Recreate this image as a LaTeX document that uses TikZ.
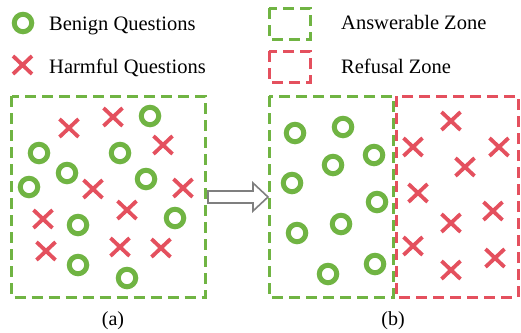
\documentclass[tikz,border=0pt]{standalone}
\usepackage{fontspec}
\setmainfont{Liberation Serif}
\usetikzlibrary{shapes.misc}
\definecolor{qgreen}{HTML}{70B443}
\definecolor{qred}{HTML}{E4505E}
\definecolor{agray}{HTML}{7F7F7F}
\tikzset{
  benign/.style={circle, draw=qgreen, line width=5pt, minimum size=17.5pt, inner sep=0pt, outer sep=0pt},
  harm/.style={cross out, draw=qred, line width=3.8pt, minimum width=19pt, minimum height=18pt, inner sep=0pt, outer sep=0pt},
  zone/.style={dash pattern=on 11pt off 6pt, line width=3pt},
  lbl/.style={anchor=base west, inner sep=0pt, font=\fontsize{20.5}{24}\selectfont},
  captext/.style={anchor=base, inner sep=0pt, font=\fontsize{20}{24}\selectfont},
}
\begin{document}
\begin{tikzpicture}[x=1pt,y=-1pt]
\useasboundingbox (0,0) rectangle (521,332);
% legend
\node[benign] (lgb) at (23,23) {};
\node[lbl] (tb) at (49,30) {Benign Questions};
\node[harm] (lgh) at (22.5,65) {};
\node[lbl] (th) at (49,73) {Harmful Questions};
\draw[zone, qgreen] (269,8) rectangle (310,39);
\draw[zone, qred] (269,51) rectangle (310,82);
\node[lbl] (ta) at (341,29) {Answerable Zone};
\node[lbl] (tr) at (341,73) {Refusal Zone};
% panel (a)
\draw[zone, qgreen] (11.5,96) rectangle (205,297);
\foreach \n/\x/\y in {a1/150/116, a2/39/153, a3/120/153, a4/67/173, a5/29/187,
  a6/146/179, a7/175/218, a8/78/225, a9/78/265, a10/127/278}
  \node[benign] (\n) at (\x,\y) {};
\foreach \n/\x/\y in {b1/69/128, b2/113/117, b3/163/145, b4/93/189, b5/183/188,
  b6/127/210, b7/43/219, b8/46/251, b9/120/247, b10/161/248}
  \node[harm] (\n) at (\x,\y) {};
\node[captext] (la) at (113,325) {(a)};
% arrow
\draw[agray, line width=1.6pt, fill=white, line join=miter]
  (208,191) -- (253,191) -- (253,183) -- (268,197) -- (253,211) -- (253,203) -- (208,203) -- cycle;
% panel (b)
\draw[zone, qgreen] (269,96) rectangle (393,297);
\draw[zone, qred] (396,96) rectangle (518,297);
\foreach \n/\x/\y in {c1/295/133, c2/343/127, c3/374/155, c4/333/165, c5/292/183,
  c6/377/202, c7/297/233, c8/341/224, c9/375/264, c10/328/274}
  \node[benign] (\n) at (\x,\y) {};
\foreach \n/\x/\y in {d1/451/121, d2/413/147, d3/499/147, d4/465/167, d5/418/193,
  d6/493/211, d7/451/223, d8/413/246, d9/451/270, d10/495/258}
  \node[harm] (\n) at (\x,\y) {};
\node[captext] (lb) at (393,325) {(b)};
\end{tikzpicture}
\end{document}
